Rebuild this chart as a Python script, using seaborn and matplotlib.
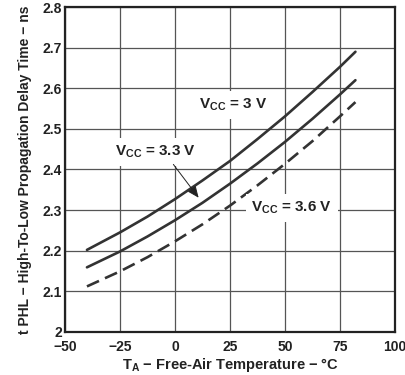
"""
Propagation delay (tPHL) versus free-air temperature
"""
import pandas as pd
import matplotlib.pyplot as plt
import seaborn as sns
from matplotlib.ticker import FuncFormatter

# Données
temps = [-40, -25, -12.5, 0, 12.5, 25, 37.5, 50, 62.5, 75, 82]
tphl_3v0 = [2.202, 2.245, 2.284, 2.327, 2.373, 2.421, 2.475, 2.531, 2.591, 2.653, 2.690]
tphl_3v3 = [2.159, 2.198, 2.235, 2.275, 2.318, 2.365, 2.415, 2.468, 2.525, 2.585, 2.620]
tphl_3v6 = [2.112, 2.149, 2.184, 2.223, 2.265, 2.311, 2.361, 2.414, 2.470, 2.531, 2.566]
series_names = ["3 V", "3.3 V", "3.6 V"]

x_ticks = [-50, -25, 0, 25, 50, 75, 100]
y_ticks = [2.0, 2.1, 2.2, 2.3, 2.4, 2.5, 2.6, 2.7, 2.8]

df = pd.DataFrame({
    "temp": temps * 3,
    "tphl": tphl_3v0 + tphl_3v3 + tphl_3v6,
    "vcc": [n for n in series_names for _ in temps],
})

sns.set_style("white")
plt.rcParams["font.family"] = ["Liberation Sans", "DejaVu Sans"]
plt.rcParams["font.weight"] = "bold"
plt.rcParams["mathtext.default"] = "regular"

fig = plt.figure(figsize=(4.06, 3.75), dpi=100)
ax = fig.add_axes([0.160, 0.115, 0.813, 0.866])

line_color = "#333333"
sns.lineplot(data=df, x="temp", y="tphl", hue="vcc", style="vcc",
             palette={n: line_color for n in series_names},
             dashes={"3 V": "", "3.3 V": "", "3.6 V": (5, 2.5)},
             linewidth=1.9, legend=False, ax=ax, zorder=3)

ax.set_xlim(-50, 100)
ax.set_ylim(2.0, 2.8)
ax.set_xticks(x_ticks)
ax.set_yticks(y_ticks)
ax.xaxis.set_major_formatter(FuncFormatter(lambda v, p: f"{v:.0f}".replace("-", "\u2212")))
ax.yaxis.set_major_formatter(FuncFormatter(lambda v, p: "2" if abs(v - 2) < 1e-9 else f"{v:.1f}"))
ax.tick_params(axis="x", length=0, labelsize=10, pad=6)
ax.tick_params(axis="y", length=0, labelsize=10, pad=2)
for lab in ax.get_xticklabels() + ax.get_yticklabels():
    lab.set_fontweight("bold")
    lab.set_color("#222222")
ax.grid(True, color="#555555", linewidth=0.9)
for s in ax.spines.values():
    s.set_color("#222222")
    s.set_linewidth(1.6)

ax.set_xlabel("T$_{A}$ \u2212 Free-Air Temperature \u2212 \u00b0C",
              fontsize=10.5, fontweight="bold", color="#222222", labelpad=1)
ax.set_ylabel("t PHL \u2212 High-To-Low Propagation Delay Time \u2212 ns",
              fontsize=10, fontweight="bold", color="#222222", labelpad=8)

box = dict(facecolor="white", edgecolor="none", pad=4)
txt = dict(fontsize=11, fontweight="bold", color="#222222", ha="center", va="center", zorder=4)
ax.text(26.5, 2.559, "V$_{CC}$ = 3 V", bbox=box, **txt)
ax.text(-9, 2.443, "V$_{CC}$ = 3.3 V", bbox=box, **txt)
ax.text(53, 2.305, "V$_{CC}$ = 3.6 V", bbox=box, **txt)
ax.annotate("", xy=(11.5, 2.325), xytext=(-1.5, 2.418),
            arrowprops=dict(arrowstyle="-|>,head_length=0.7,head_width=0.3",
                            color="#222222", lw=0.7), zorder=5)

plt.savefig("out.png", dpi=100)
plt.close()
